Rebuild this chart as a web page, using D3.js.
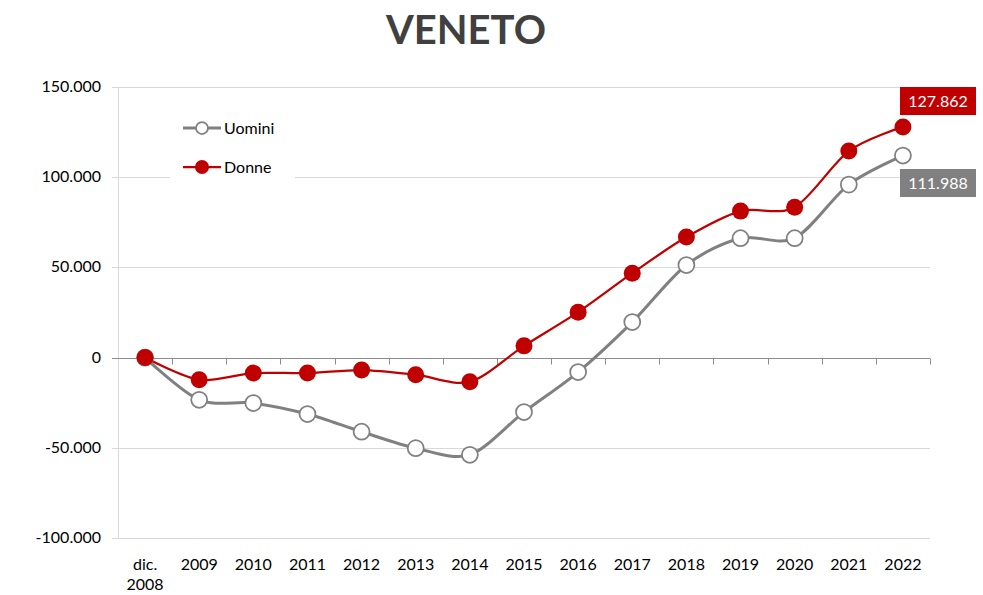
<!DOCTYPE html>
<html>
<head>
<meta charset="utf-8">
<script src="https://cdn.jsdelivr.net/npm/d3@7"></script>
<style>
  body { margin: 0; background: #fff; }
  svg text { font-family: Lato, "Open Sans", sans-serif; }
</style>
</head>
<body>
<svg id="chart" width="983" height="595"></svg>
<script>
var categories = ['dic. 2008', '2009', '2010', '2011', '2012', '2013', '2014', '2015', '2016', '2017', '2018', '2019', '2020', '2021', '2022'];
var uomini = [0, -23400, -25200, -31300, -41100, -50200, -53900, -30200, -8000, 19700, 51300, 66200, 66200, 95900, 111988];
var donne = [0, -12300, -8600, -8600, -6900, -9500, -13400, 6500, 25200, 46800, 66800, 81200, 83400, 114500, 127862];
var yTicks = [-100000, -50000, 0, 50000, 100000, 150000];

var fmt = function(v) { return d3.format(',')(v).replace(/,/g, '.').replace('\u2212', '-'); };

var svg = d3.select('#chart');
var plotLeft = 118, plotRight = 930, plotTop = 87, plotBottom = 538;

var x = d3.scaleBand().domain(categories).range([plotLeft, plotRight]);
var y = d3.scaleLinear().domain([-100000, 150000]).range([plotBottom, plotTop]);

svg.append('text').attr('x', 466).attr('y', 44).attr('text-anchor', 'middle')
  .attr('font-size', 40).attr('font-weight', 'bold').attr('fill', '#404040').text('VENETO');

// gridlines
svg.append('g').selectAll('line').data(yTicks.filter(function(d) { return d !== 0; })).enter().append('line')
  .attr('x1', plotLeft - 6).attr('x2', plotRight).attr('y1', function(d) { return Math.round(y(d)) + 0.5; })
  .attr('y2', function(d) { return Math.round(y(d)) + 0.5; }).attr('stroke', '#d9d9d9').attr('stroke-width', 1);

// left axis line
svg.append('line').attr('x1', plotLeft + 0.5).attr('x2', plotLeft + 0.5).attr('y1', plotTop).attr('y2', plotBottom)
  .attr('stroke', '#d9d9d9');

// y labels
svg.append('g').selectAll('text').data(yTicks).enter().append('text')
  .attr('x', 101).attr('y', function(d) { return y(d) + 5; }).attr('text-anchor', 'end')
  .attr('font-size', 16).attr('fill', '#000').text(fmt);

// zero line with category ticks
var y0 = Math.round(y(0)) + 0.5;
svg.append('line').attr('x1', plotLeft - 6).attr('x2', plotRight).attr('y1', y0).attr('y2', y0)
  .attr('stroke', '#8c8c8c').attr('stroke-width', 1);
svg.append('g').selectAll('line').data(categories).enter().append('line')
  .attr('x1', function(d) { return Math.round(x(d) + x.step()) + 0.5; })
  .attr('x2', function(d) { return Math.round(x(d) + x.step()) + 0.5; })
  .attr('y1', y0).attr('y2', y0 + 6).attr('stroke', '#8c8c8c');

// x labels
var cx = function(d) { return x(d) + x.bandwidth() / 2; };
svg.append('g').selectAll('text').data(categories).enter().append('text')
  .attr('x', cx).attr('y', 570).attr('text-anchor', 'middle').attr('font-size', 16).attr('fill', '#000')
  .each(function(d) {
    var parts = d.split(' ');
    var t = d3.select(this);
    parts.forEach(function(p, i) {
      t.append('tspan').attr('x', cx(d)).attr('dy', i === 0 ? 0 : 20).text(p);
    });
  });

var line = d3.line().x(function(d, i) { return cx(categories[i]); }).y(function(d) { return y(d); })
  .curve(d3.curveCardinal.tension(0.1));

svg.append('path').datum(uomini).attr('d', line).attr('fill', 'none').attr('stroke', '#808080').attr('stroke-width', 3);
svg.append('path').datum(donne).attr('d', line).attr('fill', 'none').attr('stroke', '#c00000').attr('stroke-width', 2.25);

svg.append('g').selectAll('circle').data(uomini).enter().append('circle')
  .attr('cx', function(d, i) { return cx(categories[i]); }).attr('cy', function(d) { return y(d); })
  .attr('r', 8).attr('fill', '#fff').attr('stroke', '#808080').attr('stroke-width', 1.75);
svg.append('g').selectAll('circle').data(donne).enter().append('circle')
  .attr('cx', function(d, i) { return cx(categories[i]); }).attr('cy', function(d) { return y(d); })
  .attr('r', 8.5).attr('fill', '#c00000');

// end labels
function endLabel(v, color, cy) {
  var g = svg.append('g');
  g.append('rect').attr('x', 900).attr('y', cy - 14).attr('width', 76).attr('height', 28).attr('fill', color);
  g.append('text').attr('x', 938).attr('y', cy + 6).attr('text-anchor', 'middle').attr('font-size', 16)
    .attr('fill', '#fff').text(fmt(v));
}
endLabel(donne[donne.length - 1], '#c00000', 101);
endLabel(uomini[uomini.length - 1], '#808080', 183);

// legend
var legend = svg.append('g');
legend.append('rect').attr('x', 170).attr('y', 108).attr('width', 125).attr('height', 72).attr('fill', '#fff');
[['Uomini', '#808080', true, 128], ['Donne', '#c00000', false, 167]].forEach(function(s) {
  legend.append('line').attr('x1', 183).attr('x2', 221).attr('y1', s[3]).attr('y2', s[3])
    .attr('stroke', s[1]).attr('stroke-width', s[2] ? 3 : 2.25);
  legend.append('circle').attr('cx', 202).attr('cy', s[3]).attr('r', s[2] ? 6 : 7)
    .attr('fill', s[2] ? '#fff' : s[1]).attr('stroke', s[2] ? s[1] : 'none').attr('stroke-width', 1.75);
  legend.append('text').attr('x', 224).attr('y', s[3] + 6).attr('font-size', 16).attr('fill', '#000').text(s[0]);
});
</script>
</body>
</html>
